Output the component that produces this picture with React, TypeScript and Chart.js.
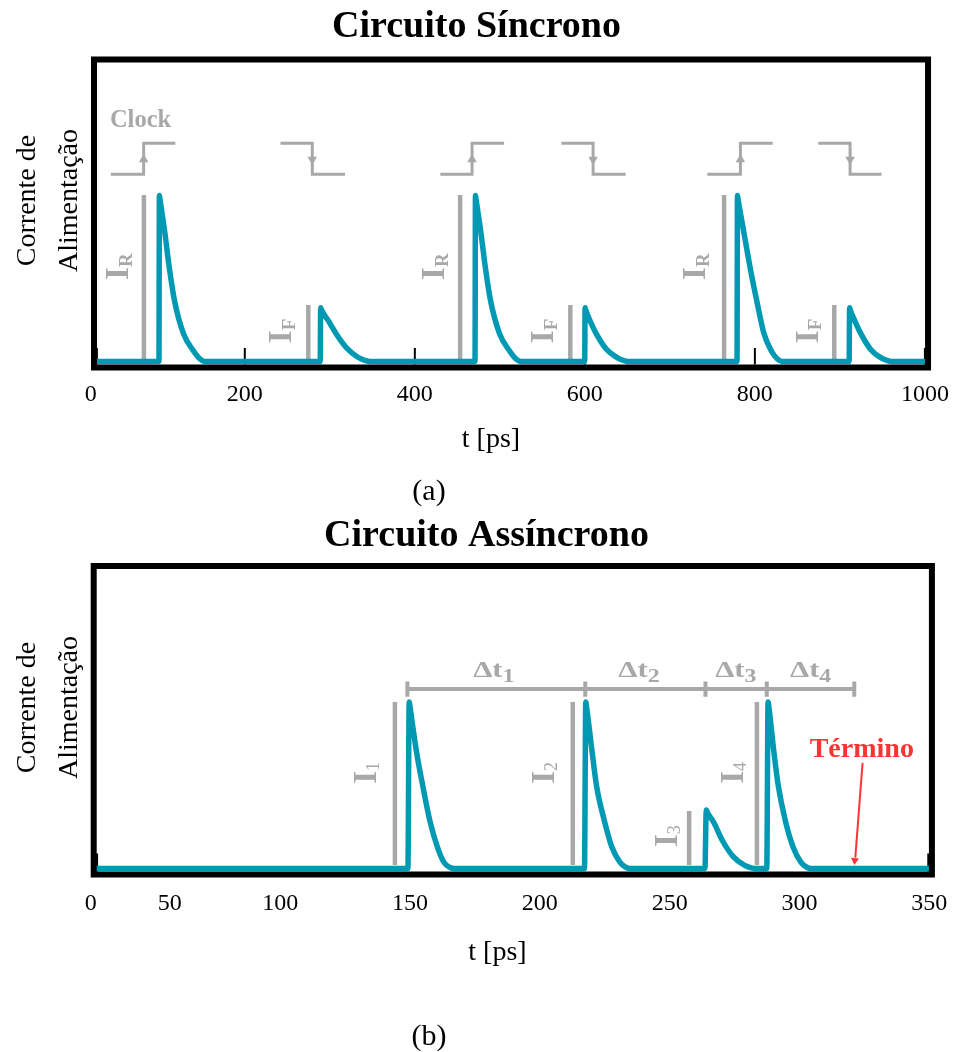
import React, { useEffect, useRef } from 'react';
import { Chart, registerables } from 'chart.js';

Chart.register(...registerables);

const TEAL = '#0099b3';
const GRAY = '#a8a8a8';
const RED = '#ff3333';
const FONT = '"Liberation Serif", "Times New Roman", serif';

// ---------------- (a) Circuito Síncrono ----------------
const syncRange: [number, number] = [22.6, 1003.7];
const syncTickValues = [18.9, 200, 400, 600, 800, 1000];
const syncTickLabels = ['0', '200', '400', '600', '800', '1000'];
const syncInnerTicks = [26, 200, 400, 600, 800, 1000];

// supply current, [t in ps, current in arbitrary units]
const syncCurrent: number[][] = [
  [22.6, 0],
  [99, 0], [99.5, 55], [100, 54.1], [106, 42.5], [111, 31.4], [117.1, 20.4], [127.6, 9.4], [139.3, 3.6], [147, 0.9], [153, 0],
  [288.7, 0], [289.2, 17.8], [289.8, 17.3], [298.9, 13.2], [307.8, 9], [319.4, 4.6], [333.1, 1.4], [342, 0.3], [348, 0],
  [470.8, 0], [471.3, 55], [471.8, 54.1], [477.8, 42.5], [482.8, 31.4], [488.9, 20.4], [499.4, 9.4], [511.1, 3.6], [518.8, 0.9], [524.8, 0],
  [599.8, 0], [600.3, 17.8], [600.9, 17.2], [606.2, 13.4], [613.2, 9.3], [624.9, 4.2], [638.4, 1.2], [646, 0.3], [651, 0],
  [779, 0], [779.5, 55], [780, 54.1], [787.2, 42.5], [794.2, 31.4], [802, 20.4], [810.5, 9.4], [819.9, 3.2], [826.5, 0.8], [832, 0],
  [910.9, 0], [911.4, 17.8], [912, 17.2], [917.5, 13.5], [924.5, 9.3], [936.2, 4.0], [948.5, 1.2], [956, 0.3], [961, 0],
  [1003.7, 0],
];

// clock edge symbols: [start, edge, end] in ps
const clockRiseX = [[42.4, 81, 118.3], [430, 467.3, 505], [744, 783, 821]];
const clockFallX = [[242, 279.4, 317.9], [572.4, 609.7, 648], [874.6, 912, 949]];
const CLOCK_HIGH = 72.3;
const CLOCK_LOW = 62;
const CLOCK_ARROW_Y = 66.9;
const clockLabelAt = [41.3, 77.7];

// I_R / I_F marker bars and labels
const irBarX = [81.3, 453.3, 763.8];
const ifBarX = [274.7, 582.9, 893.4];
const IR_BAR_TOP = 55.1;
const IF_BAR_TOP = 18.7;
const BAR_BOTTOM = 0.8;
const irLabelX = [62.6, 434.6, 741.6];
const ifLabelX = [254.9, 562.7, 873.9];
const IR_LABEL_Y = 31.4;
const IF_LABEL_Y = 10.1;

// ---------------- (b) Circuito Assíncrono ----------------
const asyncRange: [number, number] = [28.2, 351];
const asyncTickValues = [27.1, 57.5, 100, 150, 200, 250, 300, 350];
const asyncTickLabels = ['0', '50', '100', '150', '200', '250', '300', '350'];
const asyncInnerTicks = [29.5, 349.6];

const asyncCurrent: number[][] = [
  [28.2, 0],
  [149.2, 0], [149.7, 55], [150.1, 52.8], [152.6, 38.1], [155, 27], [157.6, 16], [160.5, 7.2], [163.1, 2.0], [165.3, 0.4], [167, 0],
  [217.2, 0], [217.7, 55], [218.1, 52.8], [220.2, 38.1], [221.9, 27], [224.8, 16], [227.7, 7.2], [230.9, 2.0], [233.1, 0.4], [235, 0],
  [263.6, 0], [264.1, 19.3], [264.6, 18.4], [267, 15.2], [270.2, 9.4], [274.4, 4.0], [278.9, 1.0], [281.5, 0.2], [283, 0],
  [287.4, 0], [287.9, 55], [288.3, 52.8], [290.2, 38.1], [291.9, 27], [294.5, 16], [297.5, 7.2], [300.6, 2.0], [302.8, 0.4], [304.5, 0],
  [351, 0],
];

const asyncBarX = [144.2, 212.7, 257.5, 283.6];
const asyncBarTop = [55, 55, 19, 55];
const ASYNC_BAR_BOTTOM = 1.1;
const asyncLabelX = [136.8, 205.3, 252.9, 278.2];
const asyncLabelY = [31.6, 31.6, 10.7, 31.6];
const asyncLabelSub = ['1', '2', '3', '4'];

const dtTicks = [149, 217.5, 263.8, 287.4, 321.1];
const DT_Y = 59.3;
const DT_TICK_HALF = 2.5;
const dtLabelX = [182.3, 238.2, 275.5, 304.3];
const DT_LABEL_Y = 63.3;
const dtLabelSub = ['1', '2', '3', '4'];

const terminoText = [324, 36.9];
const terminoArrow = [[324.3, 34.9], [321.5, 3.6]];
const terminoHead = [321.3, 2.66];

// ---------------- helpers ----------------
type Pt = number[];
const line = (pts: Pt[], color: string, width: number, extra: any = {}) => ({
  type: 'line',
  data: pts.map(([x, y]) => ({ x, y })),
  borderColor: color,
  backgroundColor: color,
  borderWidth: width,
  pointRadius: 0,
  fill: false,
  tension: 0,
  ...extra,
});

const heads = (pts: Pt[], rotations: number[], color: string, r: number) => ({
  type: 'line',
  data: pts.map(([x, y]) => ({ x, y })),
  showLine: false,
  pointStyle: 'triangle',
  pointRadius: r,
  rotation: rotations,
  pointBackgroundColor: color,
  pointBorderColor: color,
  pointBorderWidth: 0,
});

function rotLabel(ctx: CanvasRenderingContext2D, bx: number, cy: number, main: string, sub: string,
  mainSize: number, subSize: number, subBold: boolean, shift: number) {
  ctx.save();
  const mainFont = `bold ${mainSize}px ${FONT}`;
  const subFont = `${subBold ? 'bold ' : ''}${subSize}px ${FONT}`;
  ctx.font = mainFont;
  const w1 = ctx.measureText(main).width;
  ctx.font = subFont;
  const w2 = ctx.measureText(sub).width;
  const total = w1 + w2;
  ctx.translate(bx, cy);
  ctx.rotate(-Math.PI / 2);
  ctx.fillStyle = GRAY;
  ctx.textAlign = 'left';
  ctx.textBaseline = 'alphabetic';
  ctx.font = mainFont;
  ctx.fillText(main, -total / 2, 0);
  ctx.font = subFont;
  ctx.fillText(sub, -total / 2 + w1, shift);
  ctx.restore();
}

function deltaLabel(ctx: CanvasRenderingContext2D, cx: number, by: number, sub: string) {
  ctx.save();
  const mainFont = `bold 23px ${FONT}`;
  const subFont = `bold 18px ${FONT}`;
  ctx.font = mainFont;
  const w1 = ctx.measureText('Δt').width;
  ctx.font = subFont;
  const w2 = ctx.measureText(sub).width;
  const total = w1 + w2;
  ctx.translate(cx, by);
  ctx.scale(1.33, 1);
  ctx.fillStyle = GRAY;
  ctx.textAlign = 'left';
  ctx.textBaseline = 'alphabetic';
  ctx.font = mainFont;
  ctx.fillText('Δt', -total / 2, 0);
  ctx.font = subFont;
  ctx.fillText(sub, -total / 2 + w1, 5);
  ctx.restore();
}

type Spec = {
  top: number;
  width: number;
  height: number;
  range: [number, number];
  tickValues: number[];
  tickLabels: string[];
  innerTicks: number[];
  padding: { left: number; right: number; top: number };
  axisHeight: number;
  tickPadding: number;
  tickLen: number;
  title: string;
  titleX: number;
  titleBaseline: number;
  yTitleCenter: number;
  xTitleX: number;
  xTitleBaseline: number;
  caption: string;
  captionBaseline: number;
  datasets: any[];
  labels: (ctx: CanvasRenderingContext2D, X: (v: number) => number, Y: (v: number) => number) => void;
};

const syncSpec: Spec = {
  top: 0,
  width: 962,
  height: 508,
  range: syncRange,
  tickValues: syncTickValues,
  tickLabels: syncTickLabels,
  innerTicks: syncInnerTicks,
  padding: { left: 94, right: 27.5, top: 59.5 },
  axisHeight: 508 - 367.5,
  tickPadding: 13,
  tickLen: 16.5,
  title: 'Circuito Síncrono',
  titleX: 476.5,
  titleBaseline: 37.3,
  yTitleCenter: 200.5,
  xTitleX: 491,
  xTitleBaseline: 447,
  caption: '(a)',
  captionBaseline: 500,
  datasets: [
    line(syncCurrent, TEAL, 5.5, { cubicInterpolationMode: 'monotone' }),
    ...clockRiseX.map(([a, b, c]) => line([[a, CLOCK_LOW], [b, CLOCK_LOW], [b, CLOCK_HIGH], [c, CLOCK_HIGH]], GRAY, 3)),
    ...clockFallX.map(([a, b, c]) => line([[a, CLOCK_HIGH], [b, CLOCK_HIGH], [b, CLOCK_LOW], [c, CLOCK_LOW]], GRAY, 3)),
    heads(
      [...clockRiseX.map((s) => [s[1], CLOCK_ARROW_Y]), ...clockFallX.map((s) => [s[1], CLOCK_ARROW_Y])],
      [...clockRiseX.map(() => 0), ...clockFallX.map(() => 180)],
      GRAY, 5.5,
    ),
    ...irBarX.map((x) => line([[x, BAR_BOTTOM], [x, IR_BAR_TOP]], GRAY, 4.5)),
    ...ifBarX.map((x) => line([[x, BAR_BOTTOM], [x, IF_BAR_TOP]], GRAY, 4.5)),
  ],
  labels: (ctx, X, Y) => {
    ctx.save();
    ctx.fillStyle = GRAY;
    ctx.font = `bold 24.5px ${FONT}`;
    ctx.textAlign = 'left';
    ctx.textBaseline = 'alphabetic';
    ctx.fillText('Clock', X(clockLabelAt[0]), Y(clockLabelAt[1]));
    ctx.restore();
    irLabelX.forEach((x) => rotLabel(ctx, X(x), Y(IR_LABEL_Y), 'I', 'R', 33, 19, true, 3.7));
    ifLabelX.forEach((x) => rotLabel(ctx, X(x), Y(IF_LABEL_Y), 'I', 'F', 33, 19, true, 3.7));
  },
};

const asyncSpec: Spec = {
  top: 508,
  width: 962,
  height: 544,
  range: asyncRange,
  tickValues: asyncTickValues,
  tickLabels: asyncTickLabels,
  innerTicks: asyncInnerTicks,
  padding: { left: 93.7, right: 27.5, top: 58 },
  axisHeight: 544 - 366.5,
  tickPadding: 14.6,
  tickLen: 18,
  title: 'Circuito Assíncrono',
  titleX: 486.5,
  titleBaseline: 37.5,
  yTitleCenter: 199.5,
  xTitleX: 497.5,
  xTitleBaseline: 451.7,
  caption: '(b)',
  captionBaseline: 537,
  datasets: [
    line(asyncCurrent, TEAL, 5.5, { cubicInterpolationMode: 'monotone' }),
    ...asyncBarX.map((x, i) => line([[x, ASYNC_BAR_BOTTOM], [x, asyncBarTop[i]]], GRAY, 4.5)),
    line([[dtTicks[0], DT_Y], [dtTicks[dtTicks.length - 1], DT_Y]], GRAY, 4),
    ...dtTicks.map((t) => line([[t, DT_Y - DT_TICK_HALF], [t, DT_Y + DT_TICK_HALF]], GRAY, 4)),
    line(terminoArrow, RED, 2),
    heads([terminoHead], [184.5], RED, 4.6),
  ],
  labels: (ctx, X, Y) => {
    asyncLabelX.forEach((x, i) => rotLabel(ctx, X(x), Y(asyncLabelY[i]), 'I', asyncLabelSub[i], 33, 18, false, 3.3));
    dtLabelX.forEach((x, i) => deltaLabel(ctx, X(x), Y(DT_LABEL_Y), dtLabelSub[i]));
    ctx.save();
    ctx.fillStyle = RED;
    ctx.font = `bold 28px ${FONT}`;
    ctx.textAlign = 'center';
    ctx.textBaseline = 'alphabetic';
    ctx.fillText('Término', X(terminoText[0]), Y(terminoText[1]));
    ctx.restore();
  },
};

function Panel({ spec }: { spec: Spec }) {
  const ref = useRef<HTMLCanvasElement>(null);
  useEffect(() => {
    const canvas = ref.current;
    if (!canvas) return;
    const decor = {
      id: 'decor',
      beforeDatasetsDraw(chart: any) {
        const { ctx, chartArea: a, scales } = chart;
        ctx.save();
        ctx.strokeStyle = '#000';
        ctx.lineWidth = 2;
        for (const v of spec.innerTicks) {
          const x = scales.x.getPixelForValue(v);
          ctx.beginPath();
          ctx.moveTo(x, a.bottom - 3);
          ctx.lineTo(x, a.bottom - 3 - spec.tickLen);
          ctx.stroke();
        }
        ctx.restore();
      },
      afterDatasetsDraw(chart: any) {
        const { ctx, chartArea: a, scales } = chart;
        ctx.save();
        ctx.strokeStyle = '#000';
        ctx.lineWidth = 6;
        ctx.strokeRect(a.left, a.top, a.right - a.left, a.bottom - a.top);
        ctx.restore();

        const X = (v: number) => scales.x.getPixelForValue(v);
        const Y = (v: number) => scales.y.getPixelForValue(v);
        spec.labels(ctx, X, Y);

        ctx.save();
        ctx.fillStyle = '#000';
        ctx.textBaseline = 'alphabetic';
        ctx.textAlign = 'center';
        ctx.font = `bold 38px ${FONT}`;
        ctx.fillText(spec.title, spec.titleX, spec.titleBaseline);
        ctx.font = `28px ${FONT}`;
        ctx.fillText('t [ps]', spec.xTitleX, spec.xTitleBaseline);
        ctx.font = `30px ${FONT}`;
        ctx.fillText(spec.caption, 429, spec.captionBaseline);
        ctx.font = `28px ${FONT}`;
        const lines: [string, number][] = [['Corrente de', 35], ['Alimentação', 76.7]];
        for (const [txt, bx] of lines) {
          ctx.save();
          ctx.translate(bx, spec.yTitleCenter);
          ctx.rotate(-Math.PI / 2);
          ctx.fillText(txt, 0, 0);
          ctx.restore();
        }
        ctx.restore();
      },
    };
    const chart = new Chart(canvas, {
      type: 'line',
      data: { datasets: spec.datasets as any },
      options: {
        animation: false,
        responsive: false,
        devicePixelRatio: 1,
        events: [],
        layout: { padding: { ...spec.padding, bottom: 0 } },
        plugins: {
          legend: { display: false },
          tooltip: { enabled: false },
          title: { display: false },
        },
        scales: {
          x: {
            type: 'linear',
            min: spec.range[0],
            max: spec.range[1],
            grid: { display: false, drawTicks: false },
            border: { display: false },
            afterBuildTicks: (s: any) => {
              s.ticks = spec.tickValues.map((v) => ({ value: v }));
            },
            afterFit: (s: any) => {
              s.height = spec.axisHeight;
            },
            ticks: {
              autoSkip: false,
              maxRotation: 0,
              minRotation: 0,
              padding: spec.tickPadding,
              color: '#000',
              font: { family: FONT, size: 24 },
              callback: (_v: any, i: number) => spec.tickLabels[i],
            },
          },
          y: { type: 'linear', display: false, min: -2, max: 100 },
        },
      } as any,
      plugins: [decor],
    });
    return () => chart.destroy();
  }, [spec]);
  return (
    <div style={{ position: 'absolute', left: 0, top: spec.top, width: spec.width, height: spec.height }}>
      <canvas ref={ref} width={spec.width} height={spec.height} style={{ display: 'block', width: spec.width, height: spec.height }} />
    </div>
  );
}

export default function App() {
  return (
    <div style={{ position: 'absolute', left: 0, top: 0, width: 962, height: 1052, background: '#fff' }}>
      <Panel spec={syncSpec} />
      <Panel spec={asyncSpec} />
    </div>
  );
}
